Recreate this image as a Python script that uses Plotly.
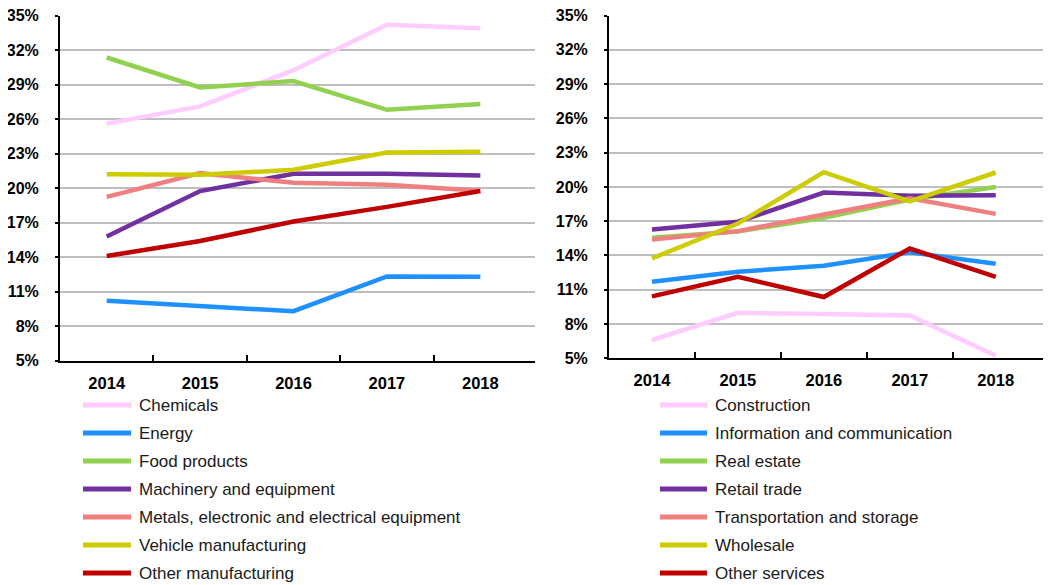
import plotly.graph_objects as go

# the page adds an 8px body margin, so the figure sits 8px right and down;
# reference pixel positions are shifted back by that amount
PAD = 8
W, H = 1051 - PAD, 585 - PAD

years = ["2014", "2015", "2016", "2017", "2018"]

# left panel: manufacturing sectors
chemicals = [25.6, 27.1, 30.25, 34.2, 33.9]
energy = [10.2, 9.77, 9.3, 12.32, 12.3]
food_products = [31.35, 28.75, 29.3, 26.8, 27.3]
machinery = [15.8, 19.74, 21.24, 21.24, 21.1]
metals = [19.24, 21.3, 20.46, 20.3, 19.76]
vehicles = [21.2, 21.15, 21.6, 23.1, 23.15]
other_manufacturing = [14.1, 15.4, 17.1, 18.37, 19.74]

# right panel: services sectors
construction = [6.6, 8.98, 8.87, 8.75, 5.22]
info_comm = [11.7, 12.57, 13.1, 14.27, 13.27]
real_estate = [15.54, 16.1, 17.3, 18.9, 20.0]
retail = [16.28, 16.95, 19.5, 19.22, 19.28]
transport = [15.4, 16.13, 17.59, 19.0, 17.64]
wholesale = [13.74, 16.8, 21.29, 18.73, 21.26]
other_services = [10.42, 12.13, 10.36, 14.61, 12.13]

colors = ["#FFCCFF", "#1E90FF", "#92D050", "#7030A0", "#F08080", "#CCCC00", "#C00000"]

left_series = [
    ("Chemicals", chemicals),
    ("Energy", energy),
    ("Food products", food_products),
    ("Machinery and equipment", machinery),
    ("Metals, electronic and electrical equipment", metals),
    ("Vehicle manufacturing", vehicles),
    ("Other manufacturing", other_manufacturing),
]
right_series = [
    ("Construction", construction),
    ("Information and communication", info_comm),
    ("Real estate", real_estate),
    ("Retail trade", retail),
    ("Transportation and storage", transport),
    ("Wholesale", wholesale),
    ("Other services", other_services),
]

xpos = list(range(len(years)))


def px(x):
    return (x - PAD) / W


def py(y):
    return 1 - (y - PAD) / H


fig = go.Figure()
for (name, vals), c in zip(left_series, colors):
    fig.add_trace(go.Scatter(x=xpos, y=vals, mode="lines", name=name,
                             line=dict(color=c, width=4.5), xaxis="x", yaxis="y",
                             showlegend=False))
for (name, vals), c in zip(right_series, colors):
    fig.add_trace(go.Scatter(x=xpos, y=vals, mode="lines", name=name,
                             line=dict(color=c, width=4.5), xaxis="x2", yaxis="y2",
                             showlegend=False))

FONT = "Liberation Sans, Arial, sans-serif"
xtick_font = dict(family=FONT, size=16.5, color="black", weight="bold")
ytick_font = dict(family=FONT, size=16, color="black", weight="bold")


def xaxis_cfg(x0, x1, anchor):
    return dict(
        domain=[px(x0), px(x1)], anchor=anchor, range=[-0.5, 4.585],
        automargin=False,
        tickmode="array", tickvals=xpos, ticktext=years,
        ticks="", showgrid=False, zeroline=False,
        showline=True, linecolor="black", linewidth=2,
        tickfont=xtick_font, ticklabelstandoff=6,
        minor=dict(tickmode="array", tickvals=[0.5, 1.5, 2.5, 3.5], ticks="inside",
                   ticklen=6, tickwidth=1.5, tickcolor="black", showgrid=False),
    )


def yaxis_cfg(top, bottom, anchor):
    return dict(
        domain=[py(bottom), py(top)], anchor=anchor, range=[5, 35],
        automargin=False, ticklabeloverflow="allow",
        tickmode="linear", tick0=5, dtick=3, ticksuffix="%", tickformat="d",
        ticks="outside", ticklen=3, tickwidth=1.5, tickcolor="black",
        showgrid=True, gridcolor="#BEBEBE", gridwidth=1.5,
        zeroline=False, showline=True, linecolor="black", linewidth=2,
        tickfont=ytick_font, ticklabelstandoff=13,
    )


fig.update_layout(
    width=W, height=H,
    margin=dict(l=0, r=0, t=0, b=0, autoexpand=False),
    paper_bgcolor="white", plot_bgcolor="white",
    xaxis=xaxis_cfg(60, 535, "y"),
    yaxis=yaxis_cfg(15.5, 360.7, "x"),
    xaxis2=xaxis_cfg(609, 1046, "y2"),
    yaxis2=yaxis_cfg(15.5, 358.3, "x2"),
    showlegend=False,
)

# hand-drawn legends below each panel
legend_font = dict(family=FONT, size=17, color="#1a1a1a")
row_y = [405, 433, 461, 489, 517, 545, 573]
for (x_line0, x_line1, x_text, series) in [(83, 131, 137, left_series), (660, 707, 713, right_series)]:
    for i, ((name, _), c) in enumerate(zip(series, colors)):
        yy = py(row_y[i])
        fig.add_shape(type="line", xref="paper", yref="paper",
                      x0=px(x_line0), x1=px(x_line1), y0=yy, y1=yy,
                      line=dict(color=c, width=5))
        fig.add_annotation(xref="paper", yref="paper", x=px(x_text), y=yy,
                           text=name, showarrow=False, xanchor="left", yanchor="middle",
                           font=legend_font)

fig.write_html("out.html")
